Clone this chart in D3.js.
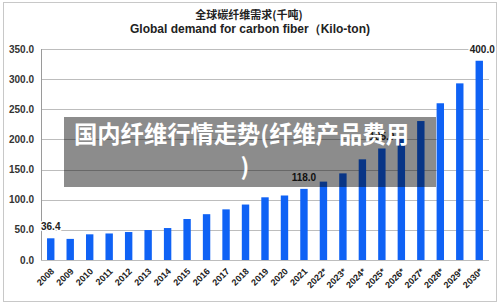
<!DOCTYPE html>
<html>
<head>
<meta charset="utf-8">
<script src="https://cdn.jsdelivr.net/npm/d3@7/dist/d3.min.js"></script>
<style>
  body { margin: 0; background: #fff; }
  svg { display: block; font-family: "Liberation Sans", Arial, sans-serif; }
</style>
</head>
<body>
<svg width="500" height="305"></svg>
<script>
// years and demand (kilo-ton)
const years = ["2008","2009","2010","2011","2012","2013","2014","2015","2016","2017","2018","2019",
  "2020","2021","2022*","2023*","2024*","2025*","2026*","2027*","2028*","2029*","2030*"];
const demand = [36, 35, 42.6, 44, 46.4, 49.7, 53, 68, 76, 84, 92, 104,
  107, 118, 130, 143.7, 167, 185, 205.6, 230.5, 260, 293, 330.5];
const yTicks = [0, 50, 100, 150, 200, 250, 300, 350];
// value labels shown on some bars
const labelYears = ["2008", "2021", "2025*", "2030*"];
const labelValues = [36.4, 118.0, 185.0, 400.0];

const titleZh = "全球碳纤维需求(千吨)";
const titleEn = "Global demand for carbon fiber（Kilo-ton)";
const overlayLines = ["国内纤维行情走势(纤维产品费用", ")"];

const svg = d3.select("svg");
const margin = { left: 41, right: 11, top: 49, bottom: 45 };
const width = +svg.attr("width");
const height = +svg.attr("height");

// outer frame
svg.append("rect")
  .attr("x", 3.5).attr("y", 2.5)
  .attr("width", 493).attr("height", 299)
  .attr("fill", "none").attr("stroke", "#c8c8c8");

// titles
svg.append("text")
  .attr("x", 249).attr("y", 19)
  .attr("text-anchor", "middle")
  .attr("font-family", "'Noto Sans CJK SC', sans-serif")
  .attr("font-size", 11).attr("font-weight", "bold")
  .attr("fill", "#222")
  .text(titleZh);
svg.append("text")
  .attr("x", 250).attr("y", 33)
  .attr("text-anchor", "middle")
  .attr("font-size", 12).attr("font-weight", "bold")
  .attr("fill", "#222")
  .text(titleEn);

const x = d3.scaleBand()
  .domain(years)
  .range([margin.left, width - margin.right])
  .paddingInner(0.62)
  .paddingOuter(0.31);

const y = d3.scaleLinear()
  .domain([0, 350])
  .range([height - margin.bottom, margin.top]);

// gridlines
svg.append("g")
  .selectAll("line")
  .data(yTicks)
  .join("line")
  .attr("x1", margin.left).attr("x2", width - margin.right)
  .attr("y1", d => Math.round(y(d)) + 0.5).attr("y2", d => Math.round(y(d)) + 0.5)
  .attr("stroke", "#bdbdbd");

// y axis line
svg.append("line")
  .attr("x1", margin.left + 0.5).attr("x2", margin.left + 0.5)
  .attr("y1", y(350)).attr("y2", y(0))
  .attr("stroke", "#9a9a9a");

// y labels
svg.append("g")
  .selectAll("text")
  .data(yTicks)
  .join("text")
  .attr("x", 34)
  .attr("y", d => y(d) + 3.5)
  .attr("text-anchor", "end")
  .attr("font-size", 10).attr("font-weight", "bold")
  .attr("fill", "#333")
  .text(d => d.toFixed(1));

// bars
svg.append("g")
  .selectAll("rect")
  .data(years)
  .join("rect")
  .attr("x", d => x(d))
  .attr("width", x.bandwidth())
  .attr("y", (d, i) => y(demand[i]))
  .attr("height", (d, i) => y(0) - y(demand[i]))
  .attr("fill", "#0f62f5");

// x labels, rotated
svg.append("g")
  .selectAll("text")
  .data(years)
  .join("text")
  .attr("transform", d => `translate(${x(d) + x.bandwidth() / 2 + 4},${y(0) + 12}) rotate(-45)`)
  .attr("text-anchor", "end")
  .attr("font-size", 9).attr("font-weight", "bold")
  .attr("fill", "#222")
  .text(d => d);

// value labels
svg.append("g")
  .selectAll("text")
  .data(labelYears)
  .join("text")
  .attr("x", d => x(d) + x.bandwidth() / 2 + (d === "2030*" ? 3 : 0))
  .attr("y", (d, i) => labelValues[i] > 350 ? y(350) + 3.5 : y(labelValues[i]) - 8)
  .attr("text-anchor", "middle")
  .attr("font-size", 10).attr("font-weight", "bold")
  .attr("fill", "#222")
  .attr("stroke", "#fff").attr("stroke-width", 3)
  .attr("paint-order", "stroke")
  .text((d, i) => labelValues[i].toFixed(1));

// grey watermark overlay
svg.append("rect")
  .attr("x", 64).attr("y", 117)
  .attr("width", 372).attr("height", 70)
  .attr("fill", "rgba(0,0,0,0.45)");

svg.append("g")
  .selectAll("text")
  .data(overlayLines)
  .join("text")
  .attr("x", (d, i) => i === 0 ? 74 : 245)
  .attr("y", (d, i) => 143 + i * 32)
  .attr("text-anchor", (d, i) => i === 0 ? "start" : "middle")
  .attr("font-family", "'Noto Sans CJK SC', sans-serif")
  .attr("font-size", 23.3).attr("font-weight", "bold")
  .attr("fill", "#fff")
  .text(d => d);
</script>
</body>
</html>
